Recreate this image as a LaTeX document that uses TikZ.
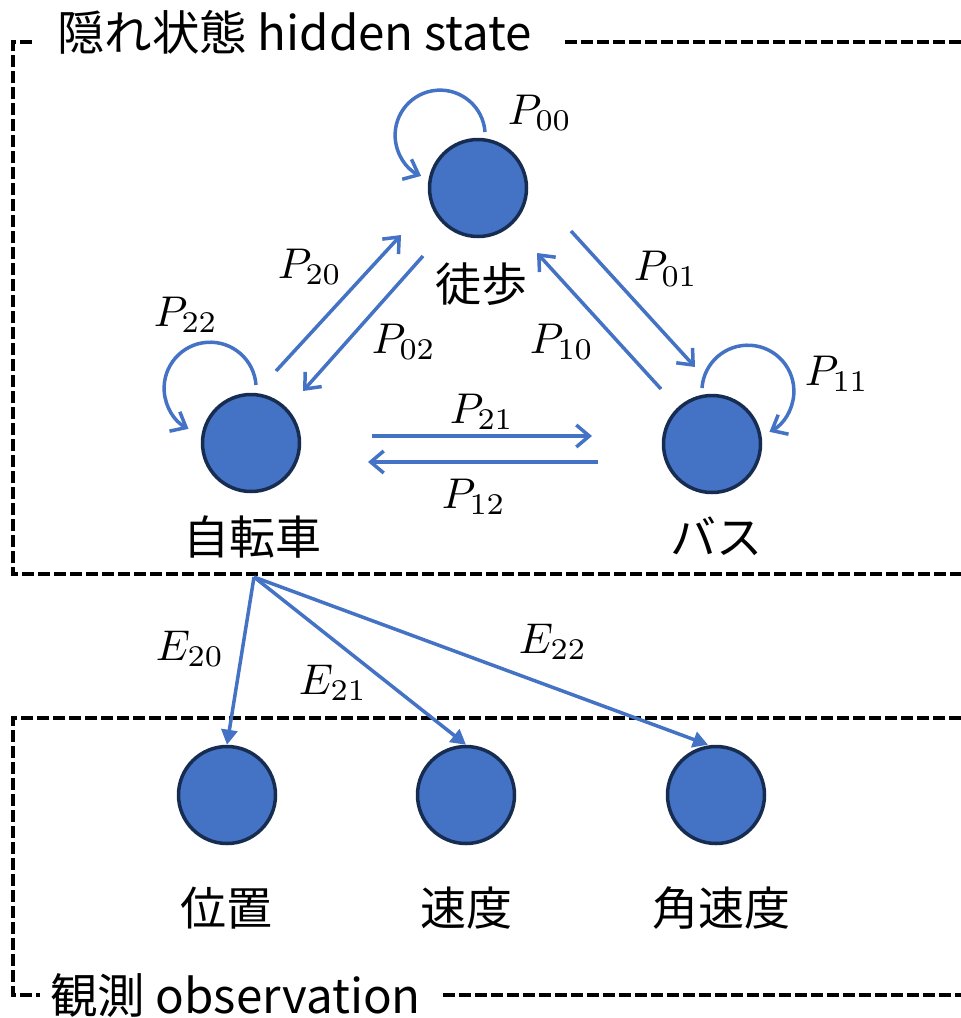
\documentclass[tikz,border=0pt]{standalone}
\usepackage{fontspec}
\newfontfamily\cjk{Noto Sans CJK JP}
\usetikzlibrary{arrows.meta}
\definecolor{nodeblue}{HTML}{4472C4}
\definecolor{navy}{HTML}{172C51}
\begin{document}
\begin{tikzpicture}[x=1pt,y=1pt,
  state/.style={circle, fill=nodeblue, draw=navy, line width=3.5pt, minimum size=97pt, inner sep=0pt},
  lab/.style={font=\cjk\fontsize{46}{55}\selectfont, inner sep=0pt},
  hlab/.style={font=\cjk\fontsize{47.5}{56}\selectfont, inner sep=0pt},
  mlab/.style={font=\normalsize, scale=4.3, inner sep=0pt},
  tr/.style={draw=nodeblue, line width=3.5pt, -{Straight Barb[length=13pt,width=22pt]}},
  em/.style={draw=nodeblue, line width=3.5pt, -{Triangle[length=15pt,width=16pt]}},
  box/.style={draw=black, dash pattern=on 12pt off 4pt, line width=3.5pt}]
\useasboundingbox (0,0) rectangle (961,-1018);

% dashed boxes
\draw[box] (32,-42) -- (13,-42) -- (13,-574) -- (961,-574);
\draw[box] (565,-42) -- (961,-42);
\draw[box] (961,-718) -- (13,-718) -- (13,-995) -- (40,-995);
\draw[box] (443,-995) -- (961,-995);
\node[hlab, anchor=west] (title) at (57,-32) {隠れ状態 hidden state};
\node[hlab, anchor=west] (obs) at (50,-996) {観測 observation};

% hidden states
\node[state] (n0) at (478,-188) {};
\node[state] (n2) at (251,-443) {};
\node[state] (n1) at (712,-444) {};
\node[lab] (l0) at (481,-284) {徒歩};
\node[lab] (l2) at (252,-537) {自転車};
\node[lab] (l1) at (716,-536) {バス};

% observations
\node[state] (o0) at (227,-795) {};
\node[state] (o1) at (466,-795) {};
\node[state] (o2) at (716,-795) {};
\node[lab] (k0) at (226,-908) {位置};
\node[lab] (k1) at (466,-908) {速度};
\node[lab] (k2) at (721,-908) {角速度};

% self loops
\draw[tr] ([shift={(7,56)}]n0.center) arc[start angle=4, end angle=245, radius=45];
\draw[tr] ([shift={(5,58)}]n2.center) arc[start angle=4, end angle=242, radius=46];
\draw[tr] ([shift={(-10,56)}]n1.center) arc[start angle=176, end angle=-62, radius=46];

% transition endpoints
\coordinate (a20s) at (276,-371);
\coordinate (a20e) at (401,-235);
\coordinate (a02s) at (423,-256);
\coordinate (a02e) at (303,-391);
\coordinate (a01s) at (571,-231);
\coordinate (a01e) at (695,-367);
\coordinate (a10s) at (661,-389);
\coordinate (a10e) at (537,-253);
\coordinate (a21s) at (372,-436);
\coordinate (a21e) at (592,-436);
\coordinate (a12s) at (598,-462);
\coordinate (a12e) at (368,-462);
\draw[tr] (a20s) -- (a20e);
\draw[tr] (a02s) -- (a02e);
\draw[tr] (a01s) -- (a01e);
\draw[tr] (a10s) -- (a10e);
\draw[tr] (a21s) -- (a21e);
\draw[tr] (a12s) -- (a12e);

% emissions
\coordinate (src) at (254,-577);
\draw[em] (src) -- (o0.north);
\draw[em] (src) -- (o1.north);
\draw[em] (src) -- ([xshift=-8pt]o2.north);

% labels
\node[mlab] (p00) at (540,-113) {$P_{00}$};
\node[mlab] (p22) at (186,-315) {$P_{22}$};
\node[mlab] (p11) at (837,-374) {$P_{11}$};
\node[mlab] (p20) at (310,-267) {$P_{20}$};
\node[mlab] (p02) at (404,-342) {$P_{02}$};
\node[mlab] (p01) at (666,-269) {$P_{01}$};
\node[mlab] (p10) at (562,-342) {$P_{10}$};
\node[mlab] (p21) at (482,-412) {$P_{21}$};
\node[mlab] (p12) at (474,-497) {$P_{12}$};
\node[mlab] (e20) at (190,-649) {$E_{20}$};
\node[mlab] (e21) at (333,-683) {$E_{21}$};
\node[mlab] (e22) at (553,-642) {$E_{22}$};
\end{tikzpicture}
\end{document}
